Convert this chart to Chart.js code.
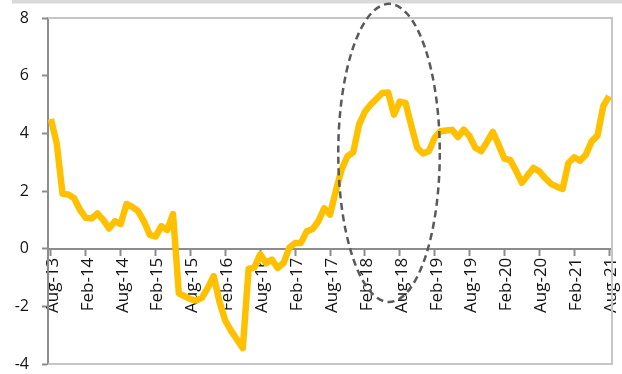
<!DOCTYPE html>
<html>
<head>
<meta charset="utf-8">
<script src="https://cdn.jsdelivr.net/npm/chart.js@4/dist/chart.umd.min.js"></script>
<style>
  html, body { margin: 0; padding: 0; background: #ffffff; }
  canvas { display: block; }
</style>
</head>
<body>
<canvas id="chart" width="622" height="374"></canvas>
<script>
// Monthly categories, Aug-13 to Aug-21
const months = [
  'Aug-13','Sep-13','Oct-13','Nov-13','Dec-13',
  'Jan-14','Feb-14','Mar-14','Apr-14','May-14','Jun-14','Jul-14','Aug-14','Sep-14','Oct-14','Nov-14','Dec-14',
  'Jan-15','Feb-15','Mar-15','Apr-15','May-15','Jun-15','Jul-15','Aug-15','Sep-15','Oct-15','Nov-15','Dec-15',
  'Jan-16','Feb-16','Mar-16','Apr-16','May-16','Jun-16','Jul-16','Aug-16','Sep-16','Oct-16','Nov-16','Dec-16',
  'Jan-17','Feb-17','Mar-17','Apr-17','May-17','Jun-17','Jul-17','Aug-17','Sep-17','Oct-17','Nov-17','Dec-17',
  'Jan-18','Feb-18','Mar-18','Apr-18','May-18','Jun-18','Jul-18','Aug-18','Sep-18','Oct-18','Nov-18','Dec-18',
  'Jan-19','Feb-19','Mar-19','Apr-19','May-19','Jun-19','Jul-19','Aug-19','Sep-19','Oct-19','Nov-19','Dec-19',
  'Jan-20','Feb-20','Mar-20','Apr-20','May-20','Jun-20','Jul-20','Aug-20','Sep-20','Oct-20','Nov-20','Dec-20',
  'Jan-21','Feb-21','Mar-21','Apr-21','May-21','Jun-21','Jul-21','Aug-21'
];

// Series values, one per month
const values = [
  4.50, 3.65, 1.90, 1.88, 1.75,
  1.35, 1.07, 1.05, 1.22, 1.00, 0.70, 0.95, 0.85, 1.55, 1.45, 1.30, 0.95,
  0.48, 0.42, 0.78, 0.65, 1.20, -1.55, -1.65, -1.75, -1.80, -1.70, -1.35, -0.95,
  -1.85, -2.50, -2.85, -3.15, -3.45, -0.70, -0.65, -0.20, -0.50, -0.38, -0.67, -0.50,
  0.03, 0.20, 0.20, 0.60, 0.68, 0.95, 1.40, 1.18, 2.00, 2.75, 3.20, 3.35,
  4.30, 4.75, 5.00, 5.20, 5.40, 5.42, 4.65, 5.10, 5.05, 4.25, 3.50, 3.30,
  3.38, 3.85, 4.07, 4.10, 4.12, 3.87, 4.13, 3.90, 3.50, 3.38, 3.70, 4.05,
  3.60, 3.12, 3.07, 2.70, 2.28, 2.55, 2.80, 2.68, 2.45, 2.25, 2.15, 2.07,
  2.97, 3.17, 3.05, 3.26, 3.72, 3.92, 4.94, 5.29
];

// Y tick values
const yTicks = [-4, -2, 0, 2, 4, 6, 8];

// A month label is shown every six months
const labelEvery = 6;

// Dashed ring around the 2018 peak (centre and radii in axis units)
const ringCentre = { month: 58.15, value: 3.32 };
const ringRadius = { months: 8.73, value: 5.17 };

const AXIS_GREY = '#8c8c8c';
const FRAME_GREY = '#c6c6c6';
const TEXT = '#141414';
const FONT = "'Open Sans', sans-serif";

const framePlugin = {
  id: 'frame',
  beforeDraw(chart) {
    const ctx = chart.ctx;
    ctx.save();
    ctx.fillStyle = '#d9d9d9';
    ctx.fillRect(12, 0, chart.width - 12, 3.5);
    ctx.restore();
  },
  beforeDatasetsDraw(chart) {
    const { ctx, chartArea: a } = chart;
    ctx.save();
    ctx.strokeStyle = FRAME_GREY;
    ctx.lineWidth = 2;
    ctx.beginPath();
    ctx.moveTo(a.left, Math.round(a.top));
    ctx.lineTo(a.right, Math.round(a.top));
    ctx.lineTo(a.right, a.bottom);
    ctx.lineTo(a.left, a.bottom);
    ctx.stroke();
    ctx.restore();
  }
};

const ringPlugin = {
  id: 'ring',
  afterDraw(chart) {
    const { ctx } = chart;
    const xs = chart.scales.x, ys = chart.scales.y;
    const cx = xs.getPixelForValue(ringCentre.month);
    const cy = ys.getPixelForValue(ringCentre.value);
    const rx = Math.abs(xs.getPixelForValue(ringCentre.month + ringRadius.months) - cx);
    const ry = Math.abs(ys.getPixelForValue(ringCentre.value + ringRadius.value) - cy);
    ctx.save();
    ctx.strokeStyle = '#595959';
    ctx.lineWidth = 2.5;
    ctx.setLineDash([7, 4.5]);
    ctx.beginPath();
    ctx.ellipse(cx, cy, rx, ry, 0, 0, Math.PI * 2);
    ctx.stroke();
    ctx.restore();
  }
};

new Chart(document.getElementById('chart'), {
  type: 'line',
  data: {
    labels: months,
    datasets: [{
      data: values,
      borderColor: '#ffc000',
      borderWidth: 6.5,
      borderJoinStyle: 'round',
      borderCapStyle: 'butt',
      pointRadius: 0,
      pointHoverRadius: 0,
      tension: 0,
      fill: false
    }]
  },
  options: {
    responsive: false,
    devicePixelRatio: 1,
    animation: false,
    events: [],
    layout: { padding: { left: 0, right: 10, top: 18, bottom: 10 } },
    plugins: { legend: { display: false }, tooltip: { enabled: false } },
    scales: {
      x: {
        type: 'category',
        position: { y: 0 },
        offset: true,
        grid: {
          display: true,
          drawOnChartArea: false,
          drawTicks: true,
          offset: false,
          tickLength: 6,
          tickWidth: 2,
          tickColor: (c) => (c.index % labelEvery === 0 ? AXIS_GREY : 'rgba(0,0,0,0)')
        },
        border: { display: true, color: AXIS_GREY, width: 2 },
        ticks: {
          autoSkip: false,
          minRotation: 90,
          maxRotation: 90,
          padding: 3,
          labelOffset: 2,
          color: TEXT,
          font: { family: FONT, size: 17 },
          callback(value, index) {
            return index % labelEvery === 0 ? months[index] : '';
          }
        },
        afterFit(scale) {
          scale.paddingLeft = 0;
          scale.paddingRight = 0;
        }
      },
      y: {
        min: yTicks[0],
        max: yTicks[yTicks.length - 1],
        grid: {
          display: true,
          drawOnChartArea: false,
          drawTicks: true,
          tickLength: 6,
          tickWidth: 2,
          tickColor: AXIS_GREY
        },
        border: { display: true, color: AXIS_GREY, width: 2 },
        afterBuildTicks(scale) {
          scale.ticks = yTicks.map(v => ({ value: v }));
        },
        ticks: {
          padding: 13,
          color: TEXT,
          font: { family: FONT, size: 16 }
        },
        afterFit(scale) {
          scale.width = 48;
          scale.paddingTop = 0;
          scale.paddingBottom = 0;
        }
      }
    }
  },
  plugins: [framePlugin, ringPlugin]
});
</script>
</body>
</html>
